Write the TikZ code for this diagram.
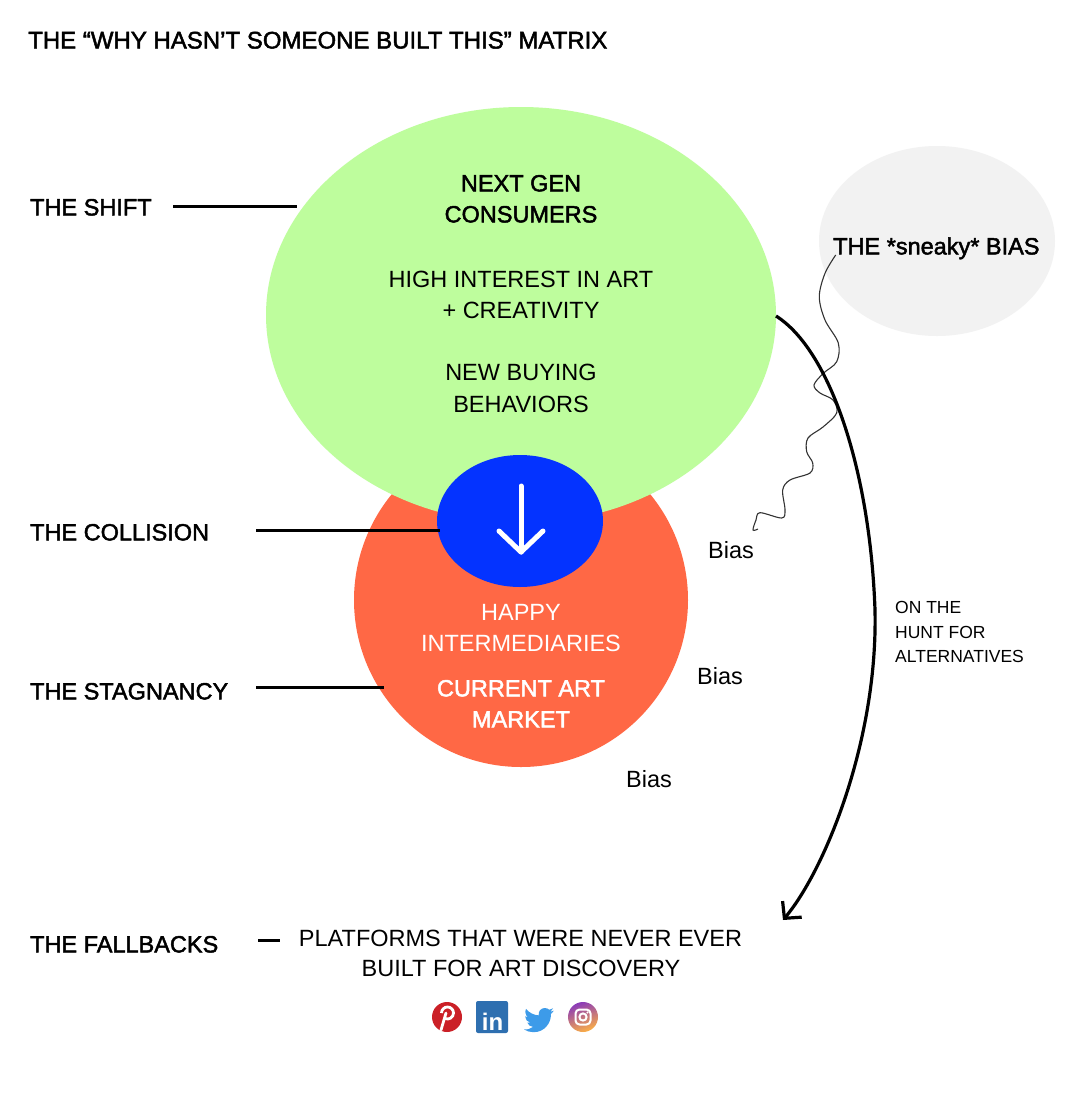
\documentclass[tikz,border=0pt]{standalone}
\usepackage{fontspec}
\setmainfont{Liberation Sans}
\newfontfamily\medfont[FakeBold=2]{Liberation Sans}
\usetikzlibrary{arrows.meta,shapes.geometric}
\definecolor{shiftgreen}{HTML}{BEFD9D}
\definecolor{stagred}{HTML}{FF6845}
\definecolor{collblue}{HTML}{0433FF}
\definecolor{cloudgray}{HTML}{F2F2F2}
\definecolor{wavygray}{HTML}{333333}
\definecolor{pinred}{HTML}{CB2027}
\definecolor{liblue}{HTML}{2E6FB0}
\definecolor{twblue}{HTML}{3D9BE9}
\definecolor{igpurple}{HTML}{8A3AB9}
\definecolor{igpink}{HTML}{E4405F}
\definecolor{igyellow}{HTML}{FCAF45}
\begin{document}
\begin{tikzpicture}[x=1pt,y=-1pt,
  lbl/.style={anchor=base west, inner sep=0pt, font=\medfont\fontsize{23.5}{28}\selectfont},
  txt/.style={anchor=base, inner sep=0pt, font=\fontsize{23.5}{28}\selectfont},
  mtxt/.style={anchor=base, inner sep=0pt, font=\medfont\fontsize{23.5}{28}\selectfont},
  smalltxt/.style={anchor=base west, inner sep=0pt, font=\fontsize{17.5}{24}\selectfont},
  biastxt/.style={anchor=base west, inner sep=0pt, font=\fontsize{23.5}{28}\selectfont},
  conn/.style={line width=3pt},
  blob/.style={ellipse, draw=none, inner sep=0pt}]
\useasboundingbox[fill=white] (0,0) rectangle (1082,1120);

% title
\node[lbl, font=\medfont\fontsize{24}{28}\selectfont] (title) at (28,48.5) {THE “WHY HASN’T SOMEONE BUILT THIS” MATRIX};

% shapes
\node[blob, fill=cloudgray, minimum width=236pt, minimum height=190pt] (cloud) at (937,241) {};
\node[circle, fill=stagred, inner sep=0pt, minimum size=334pt] (stag) at (521,600) {};
\node[blob, fill=shiftgreen, minimum width=510pt, minimum height=416pt] (shift) at (521,315) {};
\node[blob, fill=collblue, minimum width=166pt, minimum height=132pt] (coll) at (520,521) {};

% white arrow in the collision
\coordinate (wa1) at (521,486);
\coordinate (wa2) at (521,552);
\draw[white, line width=5pt, line cap=round, line join=round] (wa1) -- (wa2);
\draw[white, line width=5pt, line cap=round, line join=round] (499,531) -- (wa2) -- (543,531);

% green text
\node[mtxt] (g1) at (521,191.4) {NEXT GEN};
\node[mtxt] (g2) at (521,222.4) {CONSUMERS};
\node[txt] (g3) at (521,287.4) {HIGH INTEREST IN ART};
\node[txt] (g4) at (521,318.4) {+ CREATIVITY};
\node[txt] (g5) at (521,380.4) {NEW BUYING};
\node[txt] (g6) at (521,412.4) {BEHAVIORS};

% red text
\node[txt, text=white] (r1) at (521,620.4) {HAPPY};
\node[txt, text=white] (r2) at (521,651.4) {INTERMEDIARIES};
\node[mtxt, text=white] (r3) at (521,696.4) {CURRENT ART};
\node[mtxt, text=white] (r4) at (521,727.4) {MARKET};

% left labels
\node[lbl] (lshift) at (30,215.4) {THE SHIFT};
\node[lbl] (lcoll) at (30,540.4) {THE COLLISION};
\node[lbl] (lstag) at (30,699.4) {THE STAGNANCY};
\node[lbl] (lfall) at (30,952.4) {THE FALLBACKS};
\coordinate (s1) at (173,206); \coordinate (s2) at (297,206);
\coordinate (c1) at (256,530); \coordinate (c2) at (440,530);
\coordinate (t1) at (256,687); \coordinate (t2) at (384,687);
\coordinate (f1) at (258,940); \coordinate (f2) at (280,940);
\draw[conn] (s1) -- (s2);
\draw[conn] (c1) -- (c2);
\draw[conn] (t1) -- (t2);
\draw[conn] (f1) -- (f2);

% sneaky bias
\node[lbl, anchor=base west] (sneaky) at (833,254.4) {THE *sneaky* BIAS};
\draw[wavygray, line width=1.1pt] plot[smooth, tension=0.55] coordinates {
 (835.7,255) (825,273.3) (819.3,296.7) (825,320) (838.3,343) (836.7,361.7)
 (823.3,373.3) (814,385) (820,393) (833,400) (836.7,413) (823,427)
 (808,438) (806.7,451.7) (812.7,463) (810,473) (790,480) (782.7,490)
 (785,510) (781.7,518) (760,512.7) (756,520) (753,530) (758,529)};

% bias labels
\node[biastxt] (b1) at (708,558.4) {Bias};
\node[biastxt] (b2) at (697,684.4) {Bias};
\node[biastxt] (b3) at (626,787.4) {Bias};

% big arrow
\coordinate (arS) at (776,316);
\coordinate (arM) at (875,610);
\coordinate (arE) at (783,920);
\draw[line width=3.2pt, -{Straight Barb[length=12pt,width=25pt]}]
  (arS) .. controls (830,350) and (870,470) .. (arM)
        .. controls (878,740) and (825,870) .. (arE);

\node[smalltxt] (h1) at (895,613.3) {ON THE};
\node[smalltxt] (h2) at (895,638.3) {HUNT FOR};
\node[smalltxt] (h3) at (895,662.3) {ALTERNATIVES};

% fallbacks text
\node[txt] (p1) at (520.5,946.4) {PLATFORMS THAT WERE NEVER EVER};
\node[txt] (p2) at (521,976.4) {BUILT FOR ART DISCOVERY};

% icons
% pinterest
\node[circle, fill=pinred, minimum size=30pt, inner sep=0pt] (pin) at (447,1017) {};
\draw[white, line width=2.8pt, line cap=round] (446,1013) -- (441,1030);
\draw[white, line width=2.8pt] (441.5,1013) arc[start angle=180, end angle=-115, radius=6pt];
% linkedin
\node[fill=liblue, rounded corners=2pt, minimum size=32pt, inner sep=0pt] (lin) at (492,1017) {};
\node[text=white, font=\bfseries\fontsize{24}{24}\selectfont, inner sep=0pt, anchor=base] (lintxt) at (492.5,1030) {in};
% twitter
\begin{scope}[shift={(524,1005)}, scale=1.25]
\fill[twblue] (23.95,4.57) -- (21.13,5.34) -- (23.29,2.62) -- (20.17,3.81)
  .. controls (18.6,2.1) and (14.6,1.6) .. (12.6,4.4)
  .. controls (11.8,5.6) and (11.6,7.0) .. (11.78,8.29)
  .. controls (7.69,8.09) and (4.07,6.13) .. (1.64,3.16)
  .. controls (0.5,5.2) and (1.2,8.3) .. (3.16,9.73) -- (0.93,9.11)
  .. controls (0.95,11.5) and (2.6,13.6) .. (4.88,14.0) -- (2.67,14.08)
  .. controls (3.3,16.1) and (5.2,17.4) .. (7.27,17.5)
  .. controls (5.5,18.9) and (3.0,19.8) .. (0,19.54)
  .. controls (2.2,21.0) and (4.9,21.75) .. (7.56,21.75)
  .. controls (16.6,21.75) and (21.56,14.25) .. (21.56,7.76) -- (21.54,7.13) -- cycle;
\end{scope}
\coordinate (tw) at (539,1017);
% instagram
\shade[top color=igpurple, middle color=igpink, bottom color=igyellow, shading angle=20] (583,1017) circle[radius=15pt];
\node[draw=white, line width=2pt, rounded corners=4pt, minimum size=15pt, inner sep=0pt] (ig) at (583,1017) {};
\draw[white, line width=2pt] (583,1017) circle[radius=3.6pt];
\fill[white] (587.5,1012.5) circle[radius=1.1pt];
\end{tikzpicture}
\end{document}
